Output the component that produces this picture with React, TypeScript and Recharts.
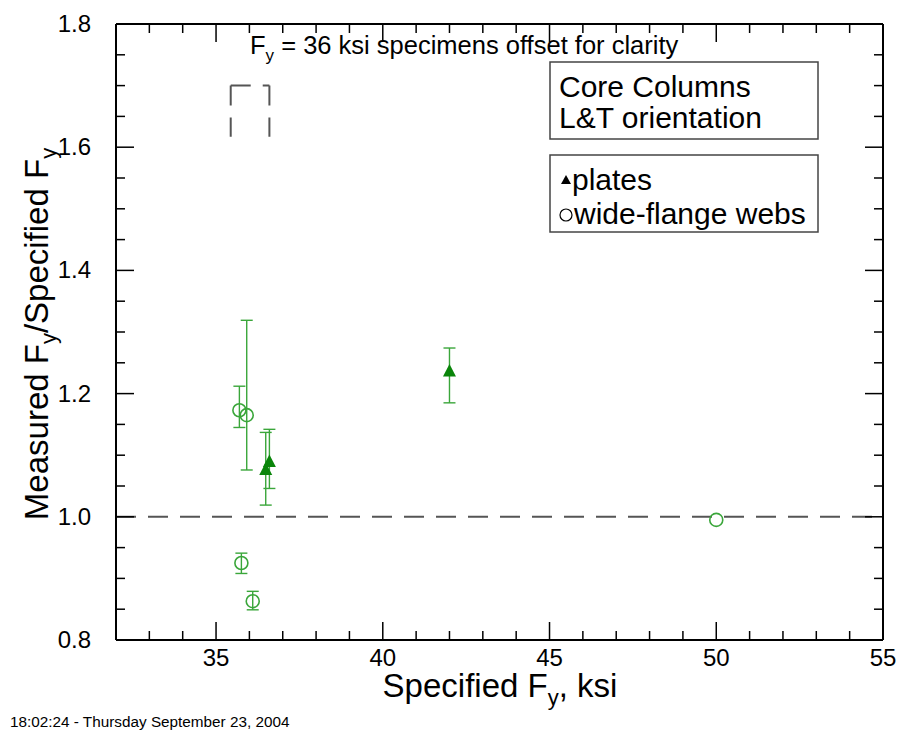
import { ScatterChart, Scatter, XAxis, YAxis, ErrorBar, ReferenceLine } from "recharts";

const FONT = "'Liberation Sans', Arial, Helvetica, sans-serif";
const WEB_GREEN = "#3aa63a";
const PLATE_GREEN = "#0a850a";
const DASH_GREY = "#555";

// x = specified Fy (36 ksi specimens offset), y = measured/specified, lo/hi = bar ends
const PLATES = [
  { x: 36.49, y: 1.076, lo: 1.019, hi: 1.137 },
  { x: 36.6, y: 1.089, lo: 1.046, hi: 1.142 },
  { x: 42.0, y: 1.236, lo: 1.185, hi: 1.274 },
];

const WEBS = [
  { x: 35.7, y: 1.173, lo: 1.145, hi: 1.212 },
  { x: 35.92, y: 1.165, lo: 1.076, hi: 1.319 },
  { x: 35.76, y: 0.925, lo: 0.908, hi: 0.941 },
  { x: 36.1, y: 0.863, lo: 0.849, hi: 0.879 },
];

const WEBS_NO_BAR = [{ x: 50.0, y: 0.995 }];

const X_TICKS = [32, 33, 34, 35, 36, 37, 38, 39, 40, 41, 42, 43, 44, 45, 46, 47, 48, 49, 50, 51, 52, 53, 54, 55];
const Y_TICKS = [0.8, 0.85, 0.9, 0.95, 1.0, 1.05, 1.1, 1.15, 1.2, 1.25, 1.3, 1.35, 1.4, 1.45, 1.5, 1.55, 1.6, 1.65, 1.7, 1.75, 1.8];

// offset bracket above the 36 ksi group
const BRACKET_X = [35.44, 36.6];
const BRACKET_Y = [1.617, 1.7];

const withErr = (d: { x: number; y: number; lo: number; hi: number }) => ({ ...d, err: [d.y - d.lo, d.hi - d.y] });

const isMajorX = (v: number) => v % 5 === 0;
const isMajorY = (v: number) => Math.abs(v * 5 - Math.round(v * 5)) < 1e-6;

const makeXTick = (side: "top" | "bottom") => (props: any) => {
  const { x, y, payload } = props;
  const v = payload.value;
  const major = isMajorX(v);
  const len = major ? 18 : 9;
  const dir = side === "bottom" ? -1 : 1;
  return (
    <g>
      <line x1={x} x2={x} y1={y} y2={y + dir * len} stroke="#000" strokeWidth={1.5} />
      {side === "bottom" && major && (
        <text x={x} y={y + 26} textAnchor="middle" fontSize={24} fontFamily={FONT} fill="#000">
          {v}
        </text>
      )}
    </g>
  );
};

const makeYTick = (side: "left" | "right") => (props: any) => {
  const { x, y, payload } = props;
  const v = payload.value;
  const major = isMajorY(v);
  const len = major ? 18 : 9;
  const dir = side === "left" ? 1 : -1;
  return (
    <g>
      <line x1={x} x2={x + dir * len} y1={y} y2={y} stroke="#000" strokeWidth={1.5} />
      {side === "left" && major && (
        <text x={x - 25} y={y + 8} textAnchor="end" fontSize={24} fontFamily={FONT} fill="#000">
          {v.toFixed(1)}
        </text>
      )}
    </g>
  );
};

const Triangle = (props: any) => {
  const { cx, cy } = props;
  return <polygon points={`${cx - 6.5},${cy + 5} ${cx + 6.5},${cy + 5} ${cx},${cy - 7.5}`} fill={PLATE_GREEN} />;
};

const Ring = (props: any) => {
  const { cx, cy } = props;
  return <circle cx={cx} cy={cy} r={6.5} fill="none" stroke={WEB_GREEN} strokeWidth={1.6} />;
};

function Overlay() {
  return (
    <svg width={902} height={730} style={{ position: "absolute", left: 0, top: 0, pointerEvents: "none" }} fontFamily={FONT}>
      <text x={250} y={54} fontSize={25.5} fill="#000">
        <tspan>F</tspan>
        <tspan fontSize={17} dy={7}>y</tspan>
        <tspan dy={-7}> = 36 ksi specimens offset for clarity</tspan>
      </text>

      <rect x={550} y={62} width={268} height={77} fill="#fff" stroke="#444" strokeWidth={1.5} />
      <text x={559} y={97} fontSize={30} fill="#000">Core Columns</text>
      <text x={559} y={128} fontSize={30} fill="#000">L&amp;T orientation</text>

      <rect x={550} y={155} width={268} height={77} fill="#fff" stroke="#444" strokeWidth={1.5} />
      <polygon points="561,184 571,184 566,175" fill="#000" />
      <text x={572} y={190} fontSize={30} fill="#000">plates</text>
      <circle cx={566} cy={215} r={6} fill="none" stroke="#000" strokeWidth={1.2} />
      <text x={574} y={224} fontSize={30} fill="#000">wide-flange webs</text>

      <text x={500} y={697} fontSize={33} textAnchor="middle" fill="#000">
        <tspan>Specified F</tspan>
        <tspan fontSize={22} dy={8}>y</tspan>
        <tspan dy={-8}>, ksi</tspan>
      </text>

      <text transform="translate(48,334) rotate(-90)" fontSize={33} textAnchor="middle" fill="#000">
        <tspan>Measured F</tspan>
        <tspan fontSize={22} dy={8}>y</tspan>
        <tspan dy={-8}>/Specified F</tspan>
        <tspan fontSize={22} dy={8}>y</tspan>
      </text>

      <text x={10} y={727} fontSize={15.3} fill="#000">18:02:24 - Thursday September 23, 2004</text>
    </svg>
  );
}

const axisLine = { stroke: "#000", strokeWidth: 2 };

export default function App() {
  const plates = PLATES.map(withErr);
  const webs = WEBS.map(withErr);
  return (
    <div style={{ position: "absolute", left: 0, top: 0, width: 902, height: 730, background: "#fff" }}>
      <ScatterChart width={902} height={730} margin={{ top: 23, right: 18, bottom: 89, left: 115 }}>
        <XAxis
          xAxisId="b"
          dataKey="x"
          type="number"
          domain={[32, 55]}
          ticks={X_TICKS}
          interval={0}
          height={1}
          tickSize={0}
          tickMargin={0}
          tickLine={false}
          axisLine={axisLine}
          tick={makeXTick("bottom")}
          allowDataOverflow
        />
        <XAxis
          xAxisId="t"
          orientation="top"
          dataKey="x"
          type="number"
          domain={[32, 55]}
          ticks={X_TICKS}
          interval={0}
          height={1}
          tickSize={0}
          tickMargin={0}
          tickLine={false}
          axisLine={axisLine}
          tick={makeXTick("top")}
          allowDataOverflow
        />
        <YAxis
          yAxisId="l"
          dataKey="y"
          type="number"
          domain={[0.8, 1.8]}
          ticks={Y_TICKS}
          interval={0}
          width={1}
          tickSize={0}
          tickMargin={0}
          tickLine={false}
          axisLine={axisLine}
          tick={makeYTick("left")}
          allowDataOverflow
        />
        <YAxis
          yAxisId="r"
          orientation="right"
          dataKey="y"
          type="number"
          domain={[0.8, 1.8]}
          ticks={Y_TICKS}
          interval={0}
          width={1}
          tickSize={0}
          tickMargin={0}
          tickLine={false}
          axisLine={axisLine}
          tick={makeYTick("right")}
          allowDataOverflow
        />

        <ReferenceLine xAxisId="b" yAxisId="l" y={1.0} stroke={DASH_GREY} strokeWidth={2} strokeDasharray="20 12" />
        <ReferenceLine
          xAxisId="b"
          yAxisId="l"
          segment={[{ x: BRACKET_X[0], y: BRACKET_Y[1] }, { x: BRACKET_X[0], y: BRACKET_Y[0] }]}
          stroke={DASH_GREY}
          strokeWidth={2}
          strokeDasharray="20 12"
        />
        <ReferenceLine
          xAxisId="b"
          yAxisId="l"
          segment={[{ x: BRACKET_X[0], y: BRACKET_Y[1] }, { x: BRACKET_X[1], y: BRACKET_Y[1] }]}
          stroke={DASH_GREY}
          strokeWidth={2}
          strokeDasharray="20 12"
        />
        <ReferenceLine
          xAxisId="b"
          yAxisId="l"
          segment={[{ x: BRACKET_X[1], y: BRACKET_Y[1] }, { x: BRACKET_X[1], y: BRACKET_Y[0] }]}
          stroke={DASH_GREY}
          strokeWidth={2}
          strokeDasharray="20 12"
        />

        <Scatter xAxisId="b" yAxisId="l" data={webs} shape={Ring} isAnimationActive={false}>
          <ErrorBar dataKey="err" direction="y" width={6} stroke={WEB_GREEN} strokeWidth={1.4} isAnimationActive={false} />
        </Scatter>
        <Scatter xAxisId="b" yAxisId="l" data={WEBS_NO_BAR} shape={Ring} isAnimationActive={false} />
        <Scatter xAxisId="b" yAxisId="l" data={plates} shape={Triangle} isAnimationActive={false}>
          <ErrorBar dataKey="err" direction="y" width={6} stroke={WEB_GREEN} strokeWidth={1.4} isAnimationActive={false} />
        </Scatter>
      </ScatterChart>
      <Overlay />
    </div>
  );
}
